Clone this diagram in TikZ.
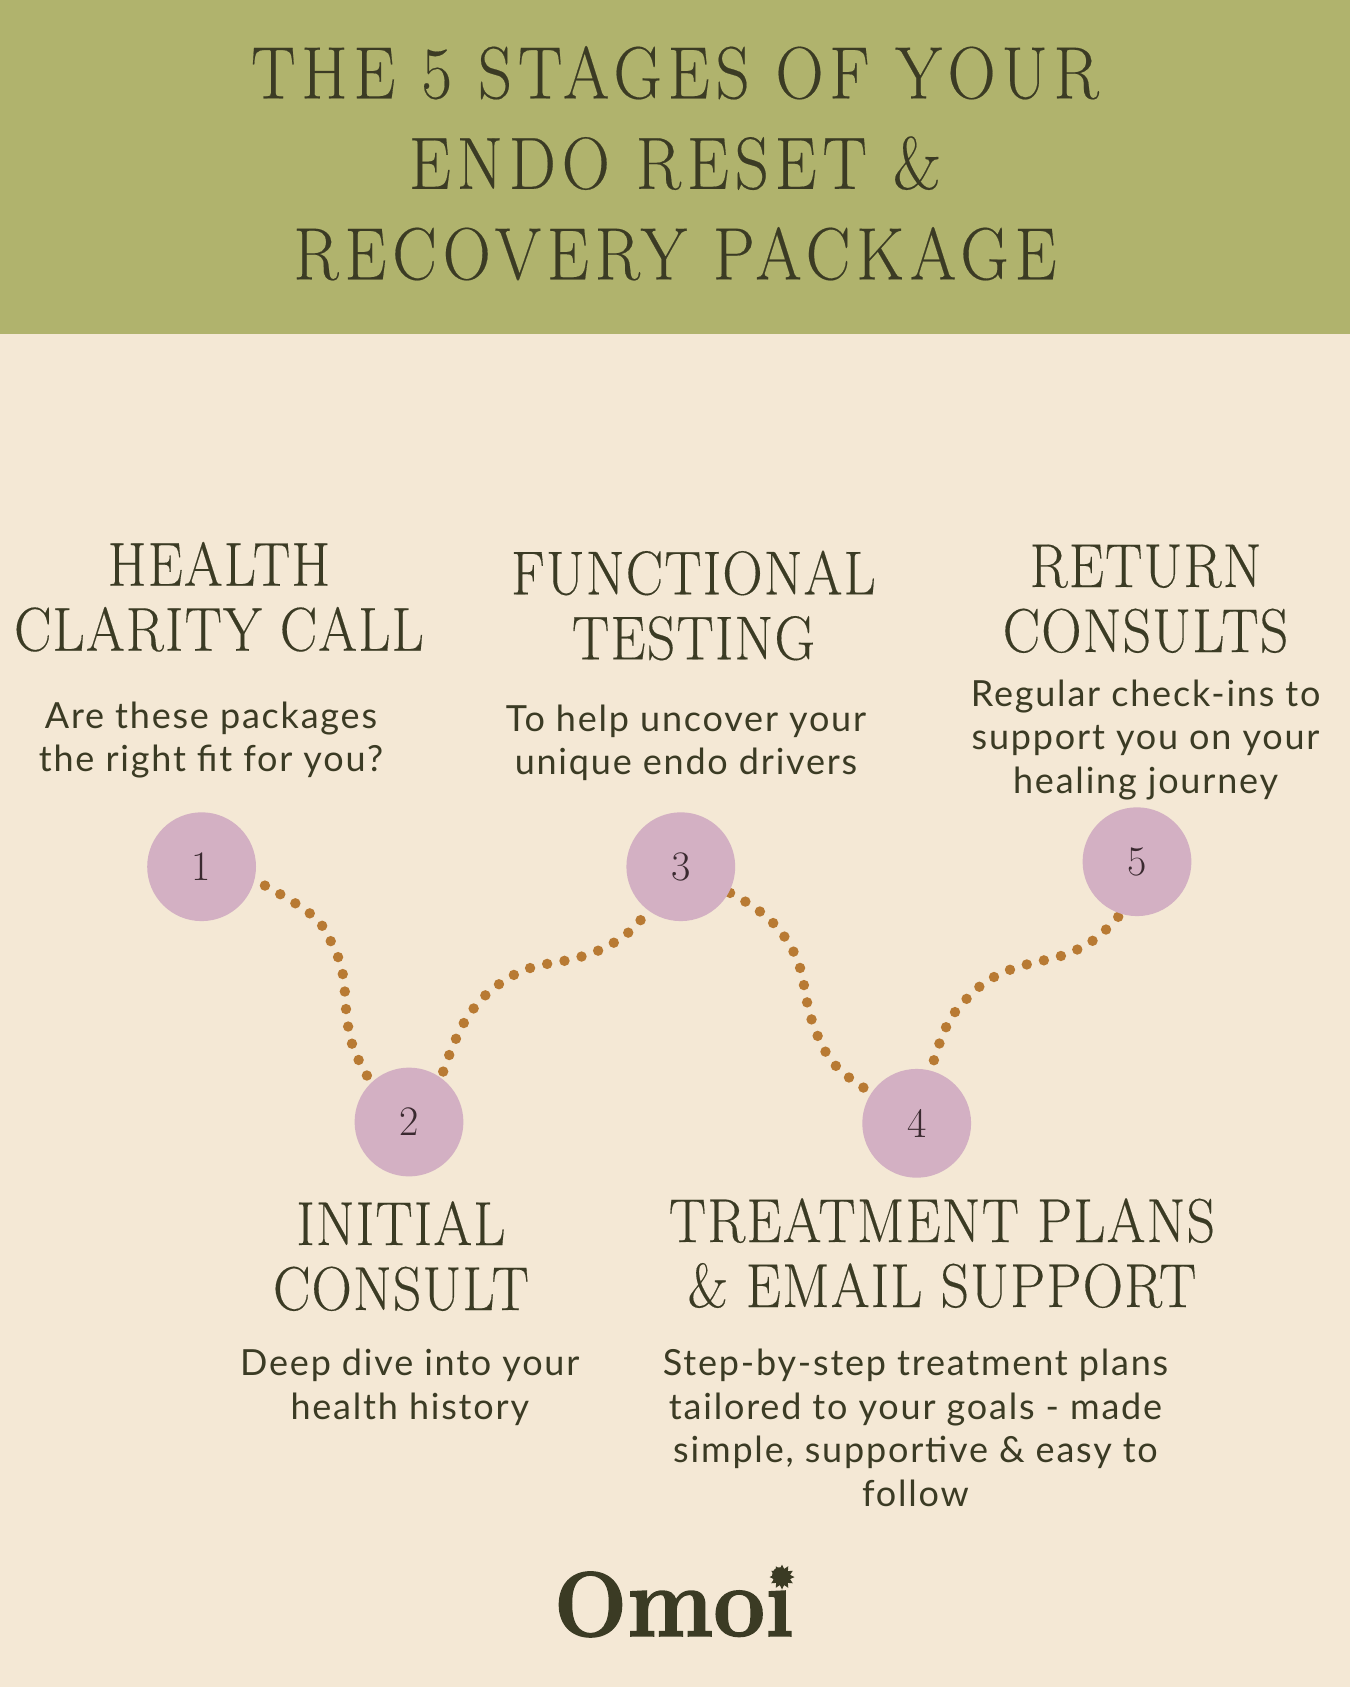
\documentclass[tikz,border=0pt]{standalone}
\usepackage{fontspec}
\usetikzlibrary{shapes.geometric}
\setmainfont{Latin Modern Roman}
\newfontfamily\headfont[FakeStretch=0.9,LetterSpace=8,FakeBold=0.25]{Latin Modern Roman}
\newfontfamily\dispfont[FakeStretch=0.9,LetterSpace=2,FakeBold=0.25]{Latin Modern Roman}
\newfontfamily\numfont{Latin Modern Roman}
\newfontfamily\bodyfont[LetterSpace=5]{Lato}
\newfontfamily\logobig[FakeStretch=0.94,FakeBold=1.5]{Latin Modern Roman}
\newfontfamily\logosmall[FakeStretch=0.92,FakeBold=1.5]{Latin Modern Roman}
\definecolor{headbg}{HTML}{B0B36D}
\definecolor{pagebg}{HTML}{F4E8D5}
\definecolor{pinkc}{HTML}{D3B0C3}
\definecolor{dotc}{HTML}{B87A33}
\definecolor{inkc}{HTML}{3B3B24}
\definecolor{numc}{HTML}{3A2A30}
\pgfdeclarelayer{background}
\pgfsetlayers{background,main}
\tikzset{
  x=1pt,y=-1pt,
  maintitle/.style={anchor=base,align=center,inner sep=0pt,outer sep=0pt,text=inkc,font=\headfont\fontsize{74}{90.5}\selectfont},
  stagetitle/.style={anchor=base,align=center,inner sep=0pt,outer sep=0pt,text=inkc,font=\dispfont\fontsize{62}{65}\selectfont},
  stagebody/.style={anchor=base,align=center,inner sep=0pt,outer sep=0pt,text=inkc,font=\bodyfont\fontsize{36}{43.5}\selectfont},
  numdisc/.style={circle,fill=pinkc,minimum size=108.8pt,inner sep=0pt,outer sep=0pt,text=numc,font=\numfont\fontsize{42}{42}\selectfont},
  dotline/.style={line width=10.4pt,dotc,line cap=round,dash pattern=on 0pt off #1},
}
\begin{document}
\begin{tikzpicture}
\useasboundingbox (0,0) rectangle (1350,1687);
\begin{pgfonlayer}{background}
\fill[pagebg] (0,0) rectangle (1350,1687);
\fill[headbg] (0,0) rectangle (1350,333.5);
\end{pgfonlayer}
\node[maintitle] (title) at (675,279.3) {THE 5 STAGES OF YOUR\\ENDO RESET \&\\RECOVERY PACKAGE};
\node[stagetitle] (t1) at (219,650.7) {HEALTH\\CLARITY CALL};
\node[stagebody] (b1) at (211,771.7) {Are these packages\\the right fit for you?};
\node[stagetitle] (t3) at (693.5,659.4) {FUNCTIONAL\\TESTING};
\node[stagebody] (b3) at (686,774.5) {To help uncover your\\unique endo drivers};
\node[stagetitle] (t5) at (1145.6,652) {RETURN\\CONSULTS};
\node[stagebody] (b5) at (1145.6,793) {Regular check-ins to\\support you on your\\healing journey};
\node[stagetitle] (t2) at (401,1310) {INITIAL\\CONSULT};
\node[stagebody] (b2) at (409.8,1419) {Deep dive into your\\health history};
\node[stagetitle] (t4) at (942,1307) {TREATMENT PLANS\\\& EMAIL SUPPORT};
\node[stagebody] (b4) at (915.5,1506) {Step-by-step treatment plans\\tailored to your goals - made\\simple, supportive \& easy to\\follow};
\node[numdisc] (n1) at (201.6,866.7) {1};
\node[numdisc] (n2) at (409,1122) {2};
\node[numdisc] (n3) at (680.8,866.7) {3};
\node[numdisc] (n4) at (916.7,1123.3) {4};
\node[numdisc] (n5) at (1137,861.7) {5};
\begin{pgfonlayer}{background}
\draw[dotline=17.6pt,dash phase=5.6pt] plot[smooth,tension=.7] coordinates {(n1.-14) (309,912.7) (330.5,940.7) (342.7,973.7) (346,1009) (352,1043.7) (367,1075.7) (n2.132)};
\draw[dotline=17.6pt,dash phase=10.8pt] plot[smooth,tension=.7] coordinates {(n2.54) (456,1038.7) (474,1008) (499.7,983.7) (531,967.7) (565,960.7) (599,950.3) (629.4,931.7) (n3.-127)};
\draw[dotline=17.6pt,dash phase=16.2pt] plot[smooth,tension=.7] coordinates {(n3.-28) (759.3,911) (784,936) (800,967.7) (807,1002) (817.7,1036) (836,1066) (864,1088) (n4.146)};
\draw[dotline=17.6pt,dash phase=6.6pt] plot[smooth,tension=.7] coordinates {(n4.75.6) (946,1027.3) (966.7,998.7) (994,977) (1027.3,964.3) (1061.7,955.7) (1093.3,940.3) (1118.7,916.3) (n5.-108.5)};
\end{pgfonlayer}
\node[anchor=base west,inner sep=0pt,outer sep=0pt,text=inkc] (logo) at (554,1636) {\bfseries{\logobig\bfseries\fontsize{92}{92}\selectfont O}{\logosmall\bfseries\fontsize{100}{100}\selectfont moi}};
\node[star,star points=12,star point ratio=1.5,fill=inkc,minimum size=25pt,inner sep=0pt,outer sep=0pt] (spark) at (782,1577) {};
\end{tikzpicture}
\end{document}
